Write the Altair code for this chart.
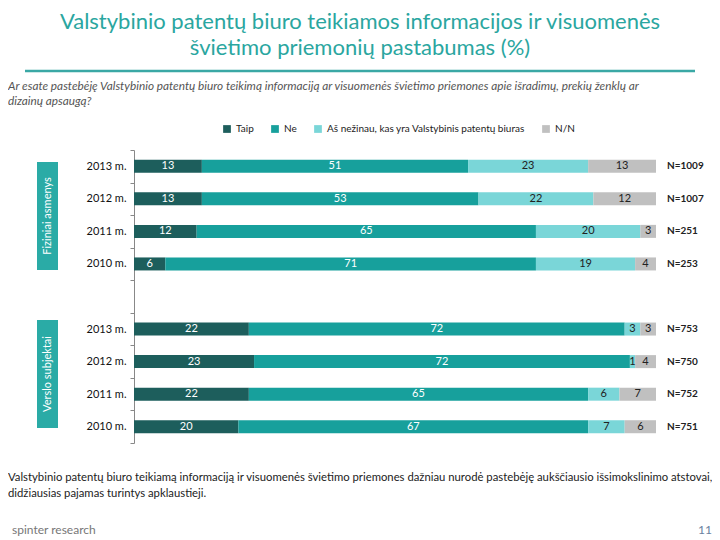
import altair as alt
import pandas as pd

# ---- data ----
rows = ["F2013", "F2012", "F2011", "F2010", "V2013", "V2012", "V2011", "V2010"]
row_domain = ["F2013", "F2012", "F2011", "F2010", "gap", "V2013", "V2012", "V2011", "V2010"]
categories = ["Taip", "Ne", "Aš nežinau, kas yra Valstybinis patentų biuras", "N/N"]
taip = [13, 13, 12, 6, 22, 23, 22, 20]
ne = [51, 53, 65, 71, 72, 72, 65, 67]
nezinau = [23, 22, 20, 19, 3, 1, 6, 7]
nn = [13, 12, 3, 4, 3, 4, 7, 6]
n_labels = ["N=1009", "N=1007", "N=251", "N=253", "N=753", "N=750", "N=752", "N=751"]
colors = ["#1d5e5c", "#17a09c", "#7ad6d8", "#c0c0c0"]
text_colors = ["white", "white", "#222222", "#222222"]

title_lines = ["Valstybinio patentų biuro teikiamos informacijos ir visuomenės",
               "švietimo priemonių pastabumas (%)"]
subtitle_lines = ["Ar esate pastebėję Valstybinio patentų biuro teikimą informaciją ar visuomenės švietimo priemones apie išradimų, prekių ženklų ar",
                  "dizainų apsaugą?"]
footer_lines = ["Valstybinio patentų biuro teikiamą informaciją ir visuomenės švietimo priemones dažniau nurodė pastebėję aukščiausio išsimokslinimo atstovai,",
                "didžiausias pajamas turintys apklaustieji."]
group_labels = ["Fiziniai asmenys", "Verslo subjektai"]
brand = "spinter research"
page_no = "11"

FONT = "Lato"

recs = []
for i, r in enumerate(rows):
    for j, (cat, vals) in enumerate(zip(categories, [taip, ne, nezinau, nn])):
        recs.append({"row": r, "cat": cat, "order": j, "value": vals[i], "tcol": text_colors[j]})
df = pd.DataFrame(recs)
ndf = pd.DataFrame({"row": rows, "n": n_labels})

yenc = alt.Y("row:N", scale=alt.Scale(domain=row_domain, paddingInner=0, paddingOuter=0),
             axis=alt.Axis(title=None,
                           labelExpr="(!datum.value || datum.value == 'gap') ? '' : substring(datum.value, 1) + ' m.'",
                           labelFontSize=11, labelColor="#111111", labelFont=FONT,
                           tickBand="extent", tickSize=4, tickColor="#888888",
                           domainColor="#888888", labelPadding=4))

base = alt.Chart(df).transform_stack(
    stack="value", as_=["x0", "x1"], groupby=["row"], sort=[alt.SortField("order")]
).transform_calculate(mid="(datum.x0 + datum.x1) / 2")

xscale = alt.Scale(domain=[0, 100], nice=False)

bars = base.mark_bar(size=13).encode(
    x=alt.X("x0:Q", scale=xscale, axis=None),
    x2="x1:Q",
    y=yenc,
    color=alt.Color("cat:N", scale=alt.Scale(domain=categories, range=colors),
                    legend=alt.Legend(title=None, orient="none", direction="horizontal",
                                      legendX=88, legendY=-26, symbolType="square",
                                      symbolSize=60, symbolStrokeWidth=0, labelFontSize=10,
                                      labelLimit=0,
                                      labelFont=FONT, labelColor="#222222", columnPadding=16)),
)

labels = base.transform_filter("datum.value > 0").mark_text(fontSize=11, font=FONT).encode(
    x=alt.X("mid:Q", scale=xscale),
    y=alt.Y("row:N"),
    text="value:Q",
    color=alt.Color("tcol:N", scale=None),
)

nlab = alt.Chart(ndf).mark_text(align="left", fontSize=10, fontWeight="bold", font=FONT,
                                color="#222222").encode(
    x=alt.value(533), y=alt.Y("row:N"), text="n:N")

one = pd.DataFrame({"a": [0]})

def txt(s, x, y, **kw):
    return alt.Chart(pd.DataFrame({"t": [s]})).mark_text(font=FONT, **kw).encode(
        x=alt.value(x), y=alt.value(y), text="t:N")

title1 = txt(title_lines[0], 226, -128, fontSize=22, color="#2aa6a0")
title2 = txt(title_lines[1], 226, -102, fontSize=22, color="#2aa6a0")
rule = alt.Chart(one).mark_rule(color="#3aa8a5", strokeWidth=2.5).encode(
    x=alt.value(-109), x2=alt.value(561), y=alt.value(-79))
sub1 = txt(subtitle_lines[0], -126, -64, fontSize=11.8, fontStyle="italic", color="#555555", align="left")
sub2 = txt(subtitle_lines[1], -126, -49, fontSize=11.8, fontStyle="italic", color="#555555", align="left")
foot1 = txt(footer_lines[0], -126, 328, fontSize=11.3, color="#222222", align="left")
foot2 = txt(footer_lines[1], -126, 344, fontSize=11.3, color="#222222", align="left")
brand_t = txt(brand, -122, 380, fontSize=12, color="#777777", align="left")
page_t = txt(page_no, 578, 380, fontSize=12, color="#6a7fa0", align="right")

box1 = alt.Chart(one).mark_rect(color="#2aaba6").encode(
    x=alt.value(-97), x2=alt.value(-76), y=alt.value(12), y2=alt.value(120))
box2 = alt.Chart(one).mark_rect(color="#2aaba6").encode(
    x=alt.value(-97), x2=alt.value(-76), y=alt.value(170), y2=alt.value(278))
g1 = txt(group_labels[0], -86.5, 66, fontSize=11, color="white", angle=270)
g2 = txt(group_labels[1], -86.5, 224, fontSize=11, color="white", angle=270)

chart = alt.layer(
    bars, labels, nlab, title1, title2, rule, sub1, sub2, foot1, foot2, brand_t, page_t,
    box1, box2, g1, g2
).properties(
    width=522, height=293,
    autosize=alt.AutoSizeParams(type="none"),
    padding={"left": 126, "top": 142, "right": 56, "bottom": 96},
).configure_view(stroke=None)

chart.save("out.html", embed_options={"renderer": "svg", "actions": False})
